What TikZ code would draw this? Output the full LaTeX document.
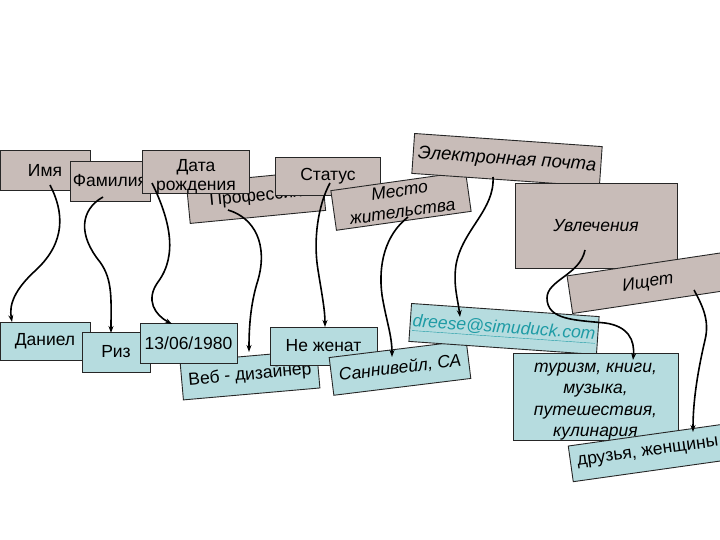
\documentclass[tikz,border=0pt]{standalone}
\usepackage{fontspec}
\setmainfont{Liberation Sans}
\usetikzlibrary{arrows.meta}
\definecolor{greybox}{RGB}{200,188,184}
\definecolor{cyanbox}{RGB}{182,220,223}
\definecolor{linkc}{RGB}{30,155,165}
\tikzset{
  box/.style={draw=black!85, line width=0.9pt, rectangle, inner sep=0pt, align=center,
    font=\fontsize{17.5}{20.5}\selectfont},
  gbox/.style={box, fill=greybox},
  cbox/.style={box, fill=cyanbox},
  conn/.style={line width=1.6pt, -{Stealth[length=7pt,width=5pt]}}
}
\begin{document}
\begin{tikzpicture}[x=1pt,y=-1pt]
\useasboundingbox (0,0) rectangle (720,540);
\fill[white] (0,0) rectangle (720,540);
\clip (0,0) rectangle (720,540);
% top boxes
\node[gbox, minimum width=90pt, minimum height=40pt] (imya) at (45,170) {Имя};
\node[gbox, minimum width=80pt, minimum height=40pt] (fam) at (110,181) {Фамилия};
\node[gbox, minimum width=136pt, minimum height=40pt, rotate=5.5] (prof) at (256,197) {Профессия};
\node[gbox, minimum width=107pt, minimum height=40pt] (data) at (196,172) {\rule{0pt}{21.5pt}Дата\\[-2pt]рождения};
\node[gbox, minimum width=105pt, minimum height=38pt] (status) at (328,176) {Статус};
\node[gbox, minimum width=136pt, minimum height=40pt, rotate=8, font=\fontsize{17.5}{21}\selectfont\itshape] (mesto) at (401,201) {Место\\жительства};
\node[gbox, minimum width=188pt, minimum height=40pt, rotate=-4, font=\fontsize{18.5}{21}\selectfont\itshape] (email) at (507,160) {Электронная почта};
\node[gbox, minimum width=162pt, minimum height=85pt, font=\fontsize{17.5}{21}\selectfont\itshape] (uvl) at (596,225.5) {Увлечения};
\node[gbox, minimum width=158pt, minimum height=38pt, rotate=8.5, font=\fontsize{17.5}{21}\selectfont\itshape] (ishchet) at (648,283) {Ищет};
% bottom boxes
\node[cbox, minimum width=137pt, minimum height=38pt, rotate=5] (veb) at (250,375) {Веб - дизайнер};
\node[cbox, minimum width=90pt, minimum height=38pt] (daniel) at (45,341) {Даниел};
\node[cbox, minimum width=68pt, minimum height=40pt] (riz) at (116,352) {Риз};
\node[cbox, minimum width=97pt, minimum height=40pt] (date2) at (188.5,343) {13/06/1980};
\node[cbox, minimum width=107pt, minimum height=38pt] (nezh) at (323.5,346) {Не женат};
\node[cbox, minimum width=138pt, minimum height=38pt, rotate=7, font=\fontsize{17.5}{21}\selectfont\itshape] (sann) at (400,368) {Саннивейл, СА};
\node[cbox, minimum width=188pt, minimum height=38pt, rotate=-4, font=\fontsize{17.5}{21}\selectfont\itshape, text=linkc] (dreese) at (504,329) {\underline{dreese@simuduck.com}};
\node[cbox, minimum width=165pt, minimum height=86pt, font=\fontsize{17.5}{21.5}\selectfont\itshape] (tur) at (595.5,397) {\rule{0pt}{18.5pt}туризм, книги,\\музыка,\\путешествия,\\кулинария};
\node[cbox, minimum width=156pt, minimum height=36pt, rotate=8] (druz) at (648,453) {друзья, женщины};
% connectors
\coordinate (s1) at (50,185);
\coordinate (s2) at (103,197);
\coordinate (s3) at (152,183);
\coordinate (s4) at (228,210);
\coordinate (s5) at (330,183);
\coordinate (s6) at (408,217);
\coordinate (s7) at (493,177);
\coordinate (s8) at (585,250);
\coordinate (s9) at (694,290);
\coordinate (e1) at (12,322);
\coordinate (e2) at (111,333);
\coordinate (e3) at (172,324);
\coordinate (e4) at (249,352);
\coordinate (e5) at (325,327);
\coordinate (e6) at (392,357);
\coordinate (e7) at (460,317);
\coordinate (e8) at (633,360);
\coordinate (e9) at (693,432);
\draw[conn] (s1) .. controls (64,212) and (66,242) .. (36,270) .. controls (14,290) and (9,305) .. (e1);
\draw[conn] (s2) .. controls (80,210) and (78,235) .. (100,262) .. controls (113,280) and (111,300) .. (e2);
\draw[conn] (s3) .. controls (170,220) and (178,255) .. (158,282) .. controls (145,300) and (155,315) .. (e3);
\draw[conn] (s4) .. controls (255,218) and (268,245) .. (258,280) .. controls (250,305) and (249,330) .. (e4);
\draw[conn] (s5) .. controls (318,205) and (313,240) .. (318,270) .. controls (322,295) and (325,310) .. (e5);
\draw[conn] (s6) .. controls (385,235) and (378,265) .. (382,295) .. controls (386,320) and (392,335) .. (e6);
\draw[conn] (s7) .. controls (495,210) and (462,230) .. (456,265) .. controls (453,285) and (458,300) .. (e7);
\draw[conn] (s8) .. controls (580,275) and (547,280) .. (547,298) .. controls (547,320) and (575,320) .. (605,323) .. controls (628,326) and (635,340) .. (e8);
\draw[conn] (s9) .. controls (702,305) and (710,320) .. (705,340) .. controls (698,370) and (693,400) .. (e9);
\end{tikzpicture}
\end{document}
